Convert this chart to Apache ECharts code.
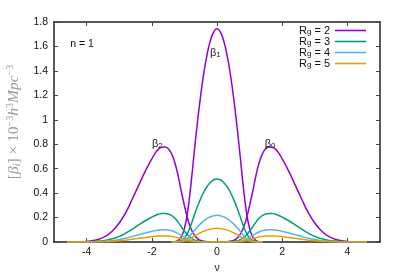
<!DOCTYPE html>
<html><head><meta charset="utf-8">
<script src="https://cdn.jsdelivr.net/npm/echarts@6/dist/echarts.min.js"></script>
<style>html,body{margin:0;padding:0;background:#fff}#c{width:399px;height:279px}</style>
</head><body><div id="c"></div>
<script>
// Legend names / groups
const rgNames = ['Rg = 2', 'Rg = 3', 'Rg = 4', 'Rg = 5'];
// x tick labels
const xTicks = [-4, -2, 0, 2, 4];

// nu grid for beta0 (right) and beta2 (left, mirrored grid)
const nuB0 = [0,0.1,0.2,0.3,0.4,0.5,0.6,0.7,0.8,0.9,1.0,1.1,1.2,1.3,1.4,1.5,1.6,1.7,1.8,1.9,2.0,2.2,2.4,2.6,2.8,3.0,3.2,3.4,3.6,3.8,4.0,4.2,4.4,4.6];
const nuB2 = [-4.6,-4.4,-4.2,-4.0,-3.8,-3.6,-3.4,-3.2,-3.0,-2.8,-2.6,-2.4,-2.2,-2.0,-1.9,-1.8,-1.7,-1.6,-1.5,-1.4,-1.3,-1.2,-1.1,-1.0,-0.9,-0.8,-0.7,-0.6,-0.5,-0.4,-0.3,-0.2,-0.1,0];
// beta0 values per Rg (on nuB0)
const b0Rg2 = [0,0,0.001,0.003,0.006,0.012,0.028,0.058,0.11,0.19,0.3,0.42,0.55,0.655,0.725,0.765,0.778,0.776,0.758,0.725,0.68,0.58,0.465,0.35,0.24,0.155,0.092,0.05,0.025,0.012,0.005,0.002,0.0005,0];
const b0Rg3 = [0,0,0.0003,0.001,0.002,0.0036,0.0084,0.017,0.033,0.057,0.09,0.126,0.165,0.196,0.217,0.229,0.233,0.233,0.227,0.217,0.204,0.174,0.14,0.105,0.072,0.046,0.028,0.015,0.0075,0.0036,0.0015,0.0006,0,0];
const b0Rg4 = [0,0,0.0001,0.0004,0.0008,0.0015,0.0036,0.0074,0.014,0.024,0.038,0.054,0.07,0.084,0.093,0.098,0.1,0.1,0.097,0.093,0.087,0.074,0.06,0.045,0.031,0.02,0.012,0.0064,0.0032,0.0015,0.0006,0.0003,0,0];
const b0Rg5 = [0,0,0,0.0002,0.0004,0.0008,0.0018,0.0037,0.007,0.012,0.019,0.027,0.035,0.042,0.046,0.049,0.05,0.05,0.0485,0.046,0.0435,0.037,0.03,0.022,0.015,0.01,0.006,0.0032,0.0016,0.0008,0.0003,0.0001,0,0];
// beta2 values per Rg (on nuB2)
const b2Rg2 = [0,0.0005,0.002,0.005,0.012,0.025,0.05,0.092,0.155,0.24,0.35,0.465,0.58,0.68,0.725,0.758,0.776,0.778,0.765,0.725,0.655,0.55,0.42,0.3,0.19,0.11,0.058,0.028,0.012,0.006,0.003,0.001,0,0];
const b2Rg3 = [0,0,0.0006,0.0015,0.0036,0.0075,0.015,0.028,0.046,0.072,0.105,0.14,0.174,0.204,0.217,0.227,0.233,0.233,0.229,0.217,0.196,0.165,0.126,0.09,0.057,0.033,0.017,0.0084,0.0036,0.002,0.001,0.0003,0,0];
const b2Rg4 = [0,0,0.0003,0.0006,0.0015,0.0032,0.0064,0.012,0.02,0.031,0.045,0.06,0.074,0.087,0.093,0.097,0.1,0.1,0.098,0.093,0.084,0.07,0.054,0.038,0.024,0.014,0.0074,0.0036,0.0015,0.0008,0.0004,0.0001,0,0];
const b2Rg5 = [0,0,0.0001,0.0003,0.0008,0.0016,0.0032,0.006,0.01,0.015,0.022,0.03,0.037,0.0435,0.046,0.0485,0.05,0.05,0.049,0.046,0.042,0.035,0.027,0.019,0.012,0.007,0.0037,0.0018,0.0008,0.0004,0.0002,0,0,0];

// nu grid for beta1
const nuB1 = [-1.4,-1.3,-1.2,-1.1,-1.0,-0.9,-0.8,-0.7,-0.6,-0.5,-0.4,-0.3,-0.2,-0.1,0,0.1,0.2,0.3,0.4,0.5,0.6,0.7,0.8,0.9,1.0,1.1,1.2,1.3,1.4];
const b1Rg2 = [0,0.003,0.012,0.04,0.11,0.25,0.47,0.73,0.98,1.2,1.39,1.54,1.65,1.72,1.745,1.72,1.65,1.54,1.39,1.2,0.98,0.73,0.47,0.25,0.11,0.04,0.012,0.003,0];
const b1Rg3 = [0,0.001,0.004,0.012,0.033,0.074,0.139,0.216,0.29,0.355,0.411,0.456,0.488,0.509,0.516,0.509,0.488,0.456,0.411,0.355,0.29,0.216,0.139,0.074,0.033,0.012,0.004,0.001,0];
const b1Rg4 = [0,0,0.0015,0.005,0.014,0.031,0.059,0.091,0.123,0.15,0.174,0.193,0.206,0.215,0.218,0.215,0.206,0.193,0.174,0.15,0.123,0.091,0.059,0.031,0.014,0.005,0.0015,0,0];
const b1Rg5 = [0,0,0.001,0.003,0.007,0.016,0.03,0.047,0.063,0.077,0.089,0.099,0.106,0.11,0.112,0.11,0.106,0.099,0.089,0.077,0.063,0.047,0.03,0.016,0.007,0.003,0.001,0,0];

const colors = ['#9400D3', '#009E73', '#56B4E9', '#E69F00'];
const b0All = [b0Rg2, b0Rg3, b0Rg4, b0Rg5];
const b1All = [b1Rg2, b1Rg3, b1Rg4, b1Rg5];
const b2All = [b2Rg2, b2Rg3, b2Rg4, b2Rg5];

function zip(xs, ys) { return xs.map((x, i) => [x, ys[i]]); }

const series = [];
rgNames.forEach((nm, i) => {
  const common = {
    type: 'line', name: nm, symbol: 'none', showSymbol: false, smooth: true,
    lineStyle: { color: colors[i], width: 1.5 }, itemStyle: { color: colors[i] },
    clip: true, silent: true, animation: false, z: 2 + i
  };
  series.push(Object.assign({}, common, { data: zip(nuB2, b2All[i]) }));
  series.push(Object.assign({}, common, { data: zip(nuB1, b1All[i]) }));
  series.push(Object.assign({}, common, { data: zip(nuB0, b0All[i]) }));
});

const axisCol = '#222';
const sans = 'Liberation Sans, Arial, sans-serif';
const chart = echarts.init(document.getElementById('c'), null, { renderer: 'canvas' });

chart.setOption({
  animation: false,
  backgroundColor: '#fff',
  grid: { left: 54, right: 19, top: 22, bottom: 33 },
  xAxis: [{
    type: 'value', min: -5, max: 5, position: 'bottom',
    axisLine: { show: true, onZero: false, lineStyle: { color: axisCol, width: 1.5 } },
    axisTick: { show: true, inside: true, length: 4, customValues: xTicks, lineStyle: { color: '#444' } },
    axisLabel: { customValues: xTicks, margin: 5, color: '#111', fontSize: 10.5, fontFamily: sans },
    splitLine: { show: false },
    name: 'ν', nameLocation: 'middle', nameGap: 21,
    nameTextStyle: { color: '#222', fontSize: 10.5, fontFamily: sans }
  }, {
    type: 'value', min: -5, max: 5, position: 'top',
    axisLine: { show: true, onZero: false, lineStyle: { color: axisCol, width: 1.5 } },
    axisTick: { show: true, inside: true, length: 4, customValues: xTicks, lineStyle: { color: '#444' } },
    axisLabel: { show: false }, splitLine: { show: false }
  }],
  yAxis: [{
    type: 'value', min: 0, max: 1.8, interval: 0.2, position: 'left',
    axisLine: { show: true, onZero: false, lineStyle: { color: axisCol, width: 1.5 } },
    axisTick: { show: true, inside: true, length: 4, lineStyle: { color: '#444' } },
    axisLabel: { margin: 6, color: '#111', fontSize: 10.5, fontFamily: sans },
    splitLine: { show: false }
  }, {
    type: 'value', min: 0, max: 1.8, interval: 0.2, position: 'right',
    axisLine: { show: true, onZero: false, lineStyle: { color: axisCol, width: 1.5 } },
    axisTick: { show: true, inside: true, length: 4, lineStyle: { color: '#444' } },
    axisLabel: { show: false }, splitLine: { show: false }
  }],
  legend: {
    data: rgNames.map((n, i) => ({ name: n, icon: 'rect', itemStyle: { color: colors[i] } })),
    orient: 'vertical', right: 33, top: 25, align: 'right',
    itemWidth: 31, itemHeight: 1.6, itemGap: 0, padding: 0,
    selectedMode: false,
    formatter: (n) => '{r|R}{s|g}{r| = ' + n.slice(-1) + '}',
    textStyle: {
      fontFamily: sans, fontSize: 11, color: '#111',
      rich: {
        r: { fontFamily: sans, fontSize: 11, color: '#111', lineHeight: 11 },
        s: { fontFamily: sans, fontSize: 8, color: '#111', lineHeight: 3, verticalAlign: 'bottom' }
      }
    }
  },
  series: series
});

// annotations in data coordinates
const labelPos = [[-0.05, 1.55, '1'], [-1.83, 0.80, '2'], [1.63, 0.80, '0']];
const graphics = [];
labelPos.forEach(p => {
  const px = chart.convertToPixel({ xAxisIndex: 0, yAxisIndex: 0 }, [p[0], p[1]]);
  graphics.push({
    type: 'text', x: px[0], y: px[1], z: 20,
    style: {
      text: '{b|β}{s|' + p[2] + '}', align: 'center', verticalAlign: 'middle',
      rich: {
        b: { fontFamily: sans, fontSize: 11, fill: '#222', lineHeight: 12 },
        s: { fontFamily: sans, fontSize: 8, fill: '#222', lineHeight: 4, verticalAlign: 'bottom' }
      }
    }
  });
});
const np = chart.convertToPixel({ xAxisIndex: 0, yAxisIndex: 0 }, [-4.5, 1.62]);
graphics.push({
  type: 'text', x: np[0], y: np[1], z: 20,
  style: { text: 'n = 1', fontFamily: sans, fontSize: 10.5, fill: '#111', align: 'left', verticalAlign: 'middle' }
});
const serif = 'Liberation Serif, DejaVu Serif, serif';
graphics.push({
  type: 'text', x: 14, y: 122, rotation: Math.PI / 2, z: 20,
  style: {
    text: '{n|[}{i|β}{sb|i}{n|] × 10}{sp|−3}{i|h}{sp|3}{i|Mpc}{sp|−3}',
    align: 'center', verticalAlign: 'middle',
    rich: {
      n: { fontFamily: serif, fontSize: 15.5, fill: '#999', lineHeight: 17 },
      i: { fontFamily: serif, fontStyle: 'italic', fontSize: 15.5, fill: '#999', lineHeight: 17 },
      sb: { fontFamily: serif, fontStyle: 'italic', fontSize: 10, fill: '#999', lineHeight: 6, verticalAlign: 'bottom' },
      sp: { fontFamily: serif, fontSize: 10, fill: '#999', lineHeight: 6, verticalAlign: 'top' }
    }
  }
});
chart.setOption({ graphic: graphics });
</script></body></html>
